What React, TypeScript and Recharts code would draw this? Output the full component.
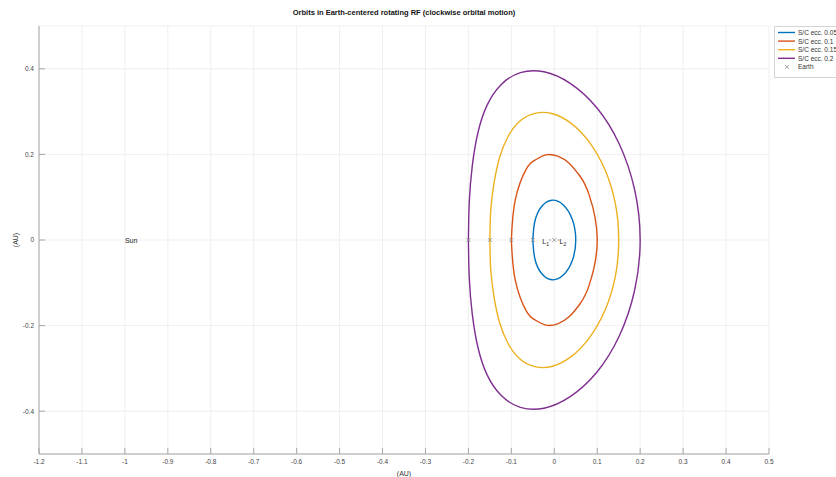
import * as React from "react";
import {
  ScatterChart,
  Scatter,
  XAxis,
  YAxis,
  CartesianGrid,
} from "recharts";

// Relative orbits, Earth-centred rotating frame (AU).
// Each loop starts at perihelion (left crossing) and runs clockwise.
const orbit005 = [
  { x: -0.05, y: 0 },
  { x: -0.045, y: 0.045 },
  { x: -0.029, y: 0.079 },
  { x: -0.005, y: 0.093 },
  { x: 0.021, y: 0.082 },
  { x: 0.042, y: 0.048 },
  { x: 0.05, y: 0 },
  { x: 0.042, y: -0.048 },
  { x: 0.021, y: -0.082 },
  { x: -0.005, y: -0.093 },
  { x: -0.029, y: -0.079 },
  { x: -0.045, y: -0.045 },
  { x: -0.05, y: 0 },
];

const orbit010 = [
  { x: -0.1, y: 0 },
  { x: -0.091, y: 0.093 },
  { x: -0.065, y: 0.166 },
  { x: -0.044, y: 0.187 },
  { x: -0.02, y: 0.199 },
  { x: 0.008, y: 0.196 },
  { x: 0.035, y: 0.179 },
  { x: 0.06, y: 0.149 },
  { x: 0.081, y: 0.106 },
  { x: 0.1, y: 0 },
  { x: 0.081, y: -0.106 },
  { x: 0.06, y: -0.149 },
  { x: 0.035, y: -0.179 },
  { x: 0.008, y: -0.196 },
  { x: -0.02, y: -0.199 },
  { x: -0.044, y: -0.187 },
  { x: -0.065, y: -0.166 },
  { x: -0.091, y: -0.093 },
  { x: -0.1, y: 0 },
];

const orbit015 = [
  { x: -0.15, y: 0 },
  { x: -0.148, y: 0.069 },
  { x: -0.14, y: 0.135 },
  { x: -0.127, y: 0.194 },
  { x: -0.107, y: 0.243 },
  { x: -0.08, y: 0.278 },
  { x: -0.045, y: 0.296 },
  { x: -0.004, y: 0.295 },
  { x: 0.04, y: 0.272 },
  { x: 0.082, y: 0.228 },
  { x: 0.118, y: 0.164 },
  { x: 0.142, y: 0.086 },
  { x: 0.15, y: 0 },
  { x: 0.142, y: -0.086 },
  { x: 0.118, y: -0.164 },
  { x: 0.082, y: -0.228 },
  { x: 0.04, y: -0.272 },
  { x: -0.004, y: -0.295 },
  { x: -0.045, y: -0.296 },
  { x: -0.08, y: -0.278 },
  { x: -0.107, y: -0.243 },
  { x: -0.127, y: -0.194 },
  { x: -0.14, y: -0.135 },
  { x: -0.148, y: -0.069 },
  { x: -0.15, y: 0 },
];

const orbit020 = [
  { x: -0.2, y: 0 },
  { x: -0.198, y: 0.088 },
  { x: -0.191, y: 0.173 },
  { x: -0.178, y: 0.25 },
  { x: -0.157, y: 0.314 },
  { x: -0.124, y: 0.363 },
  { x: -0.079, y: 0.391 },
  { x: -0.024, y: 0.393 },
  { x: 0.037, y: 0.366 },
  { x: 0.099, y: 0.309 },
  { x: 0.151, y: 0.225 },
  { x: 0.187, y: 0.118 },
  { x: 0.2, y: 0 },
  { x: 0.187, y: -0.118 },
  { x: 0.151, y: -0.225 },
  { x: 0.099, y: -0.309 },
  { x: 0.037, y: -0.366 },
  { x: -0.024, y: -0.393 },
  { x: -0.079, y: -0.391 },
  { x: -0.124, y: -0.363 },
  { x: -0.157, y: -0.314 },
  { x: -0.178, y: -0.25 },
  { x: -0.191, y: -0.173 },
  { x: -0.198, y: -0.088 },
  { x: -0.2, y: 0 },
];

// start markers (x) on each orbit + Earth
const startPoints = [
  { x: -0.2, y: 0 },
  { x: -0.15, y: 0 },
  { x: -0.1, y: 0 },
  { x: -0.05, y: 0 },
];
const earthPoint = [{ x: 0, y: 0 }];
const lagrangePoints = [
  { x: -0.01, y: 0 },
  { x: 0.01, y: 0 },
];

const annotations = [
  { x: -1, y: 0, text: "Sun", sub: "", anchor: "start" },
  { x: -0.01, y: 0, text: "L", sub: "1", anchor: "end" },
  { x: 0.01, y: 0, text: "L", sub: "2", anchor: "start" },
];

const xTicks = [
  -1.2, -1.1, -1, -0.9, -0.8, -0.7, -0.6, -0.5, -0.4, -0.3, -0.2, -0.1, 0, 0.1,
  0.2, 0.3, 0.4, 0.5,
];
const yTicks = [-0.4, -0.2, 0, 0.2, 0.4];

const seriesNames = ["S/C ecc. 0.05", "S/C ecc. 0.1", "S/C ecc. 0.15", "S/C ecc. 0.2"];
const seriesColors = ["#0072BD", "#D95319", "#EDB120", "#7E2F8E"];
const seriesData = [orbit005, orbit010, orbit015, orbit020];

const FONT = '"Liberation Sans", Arial, Helvetica, sans-serif';
const W = 836;
const H = 477;

const NoDot = () => <g />;

const XMark = (props: any) => {
  const { cx, cy } = props;
  const s = 2;
  return (
    <path
      d={`M${cx - s},${cy - s}L${cx + s},${cy + s}M${cx - s},${cy + s}L${cx + s},${cy - s}`}
      stroke="#8c8c8c"
      strokeWidth={0.8}
      fill="none"
    />
  );
};

const TinyDot = (props: any) => {
  const { cx, cy } = props;
  return <circle cx={cx} cy={cy} r={0.7} fill="#8c8c8c" />;
};

const Annotation = (props: any) => {
  const { cx, cy, payload } = props;
  const dx = payload.anchor === "end" ? -1 : payload.anchor === "start" && payload.sub ? 1 : 0;
  return (
    <text
      x={cx + dx}
      y={cy + (payload.sub ? 4 : 2.5)}
      textAnchor={payload.anchor}
      fontSize={7}
      fontFamily={FONT}
      style={{ fill: "#1a1a1a" }}
    >
      {payload.text}
      {payload.sub ? (
        <tspan fontSize={5} dy={2}>
          {payload.sub}
        </tspan>
      ) : null}
    </text>
  );
};

export default function App() {
  return (
    <div
      style={{
        position: "absolute",
        left: 0,
        top: 0,
        width: W,
        height: H,
        background: "#fff",
        overflow: "hidden",
        fontFamily: FONT,
      }}
    >
      <div
        style={{
          position: "absolute",
          left: 39,
          width: 730,
          top: 8,
          textAlign: "center",
          fontSize: 7.5,
          fontWeight: "bold",
          lineHeight: "10px",
          color: "#111",
        }}
      >
        Orbits in Earth-centered rotating RF (clockwise orbital motion)
      </div>

      <ScatterChart
        width={W}
        height={H}
        margin={{ top: 26, right: 67, bottom: 0, left: 0 }}
      >
        <CartesianGrid stroke="#ebebeb" strokeWidth={0.8} />
        <XAxis
          type="number"
          dataKey="x"
          domain={[-1.2, 0.5]}
          ticks={xTicks}
          interval={0}
          allowDataOverflow
          height={23}
          stroke="#a6a6a6"
          tickSize={-6}
          tickMargin={11}
          tick={{ fontSize: 6.5, fill: "#444", fontFamily: FONT }}
          label={{
            value: "(AU)",
            position: "insideBottom",
            offset: 1,
            fontSize: 7,
            fill: "#333",
            fontFamily: FONT,
          }}
        />
        <YAxis
          type="number"
          dataKey="y"
          domain={[-0.5, 0.5]}
          ticks={yTicks}
          interval={0}
          allowDataOverflow
          width={39}
          stroke="#a6a6a6"
          tickSize={-6}
          tickMargin={11}
          tick={{ fontSize: 6.5, fill: "#444", fontFamily: FONT }}
          label={{
            content: (p: any) => {
              const vb = p.viewBox || { x: 0, y: 26, height: 428 };
              const x = vb.x + 15;
              const y = vb.y + vb.height / 2;
              return (
                <text
                  x={x}
                  y={y}
                  transform={`rotate(-90 ${x} ${y})`}
                  textAnchor="middle"
                  dominantBaseline="central"
                  fontSize={7}
                  fill="#333"
                  fontFamily={FONT}
                >
                  (AU)
                </text>
              );
            },
          }}
        />
        {seriesData.map((d, i) => (
          <Scatter
            key={seriesNames[i]}
            name={seriesNames[i]}
            data={d}
            fill={seriesColors[i]}
            line={{ stroke: seriesColors[i], strokeWidth: 1.4 }}
            lineJointType="natural"
            shape={NoDot}
            isAnimationActive={false}
          />
        ))}
        <Scatter data={startPoints} shape={XMark} isAnimationActive={false} />
        <Scatter data={earthPoint} shape={XMark} isAnimationActive={false} />
        <Scatter data={lagrangePoints} shape={TinyDot} isAnimationActive={false} />
        <Scatter data={annotations} fill="#1a1a1a" shape={Annotation} isAnimationActive={false} />
      </ScatterChart>

      {/* legend box, runs off the right edge like the original */}
      <div
        style={{
          position: "absolute",
          left: 774,
          top: 26,
          width: 80,
          height: 50,
          border: "1px solid #d4d4d4",
          background: "#fff",
        }}
      >
        <svg width={80} height={50} style={{ position: "absolute", left: 0, top: 0 }}>
          {seriesNames.map((n, i) => {
            const y = 5.5 + i * 8.6;
            return (
              <g key={n}>
                <line x1={3} x2={20} y1={y} y2={y} stroke={seriesColors[i]} strokeWidth={1.4} />
                <text x={23} y={y} dominantBaseline="central" fontSize={6.5} fill="#333" fontFamily={FONT}>
                  {n}
                </text>
              </g>
            );
          })}
          <path
            d={`M${10},${39.9 - 2}L${14},${39.9 + 2}M${10},${39.9 + 2}L${14},${39.9 - 2}`}
            stroke="#8c8c8c"
            strokeWidth={0.8}
          />
          <text x={23} y={39.9} dominantBaseline="central" fontSize={6.5} fill="#333" fontFamily={FONT}>
            Earth
          </text>
        </svg>
      </div>
    </div>
  );
}
